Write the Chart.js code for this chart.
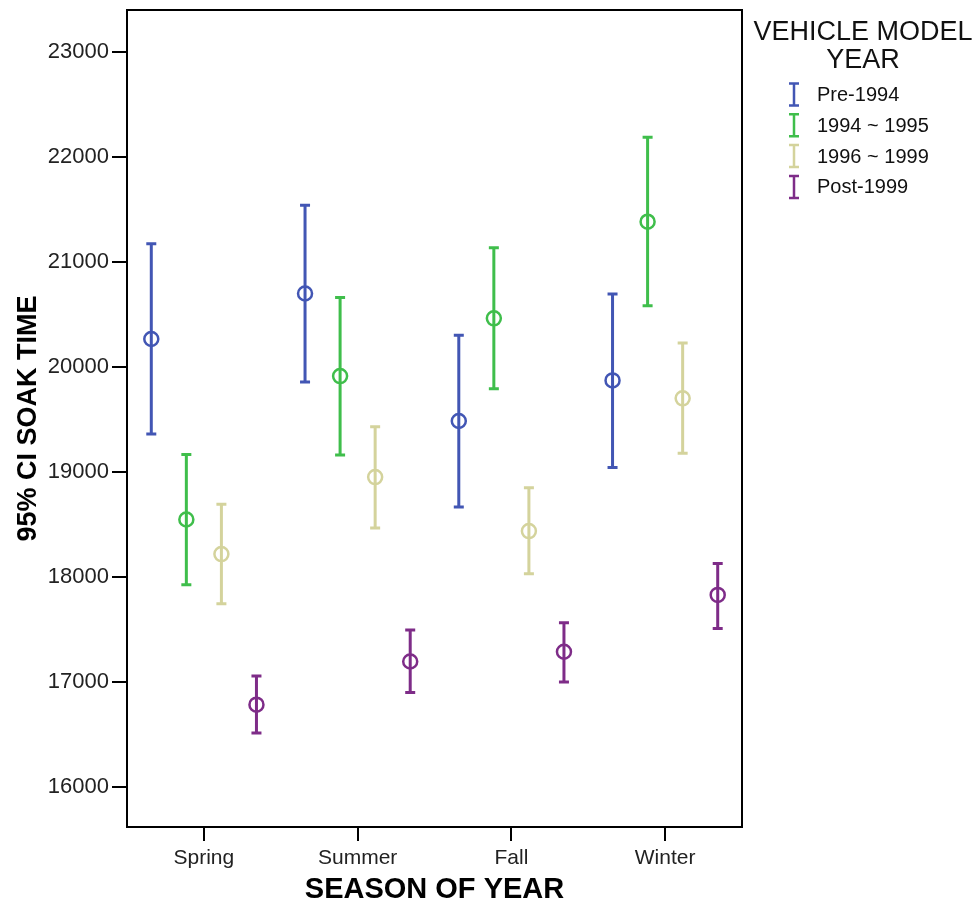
<!DOCTYPE html>
<html><head><meta charset="utf-8">
<script src="https://cdn.jsdelivr.net/npm/chart.js@4.4.0/dist/chart.umd.min.js"></script>
<style>html,body{margin:0;padding:0;background:#fff;}#wrap{width:976px;height:909px;position:relative;}</style>
</head><body><div id="wrap"><canvas id="c" width="976" height="909"></canvas></div>
<script>
const seasons = ['Spring', 'Summer', 'Fall', 'Winter'];
const seriesNames = ['Pre-1994', '1994 ~ 1995', '1996 ~ 1999', 'Post-1999'];
const seriesColors = ['#4256B4', '#3FBE4B', '#D4D39C', '#7E2C88'];
const yTickValues = [16000, 17000, 18000, 19000, 20000, 21000, 22000, 23000];

const pre1994Mean = [20267, 20700, 19486, 19873];
const pre1994Low = [19362, 19857, 18667, 19044];
const pre1994High = [21174, 21541, 20302, 20696];

const y1994to1995Mean = [18548, 19914, 20464, 21384];
const y1994to1995Low = [17928, 19162, 19794, 20584];
const y1994to1995High = [19168, 20663, 21136, 22188];

const y1996to1999Mean = [18219, 18952, 18438, 19702];
const y1996to1999Low = [17745, 18467, 18032, 19179];
const y1996to1999High = [18693, 19432, 18851, 20229];

const post1999Mean = [16785, 17196, 17289, 17830];
const post1999Low = [16514, 16901, 17000, 17510];
const post1999High = [17057, 17495, 17565, 18130];

const means = [pre1994Mean, y1994to1995Mean, y1996to1999Mean, post1999Mean];
const lows = [pre1994Low, y1994to1995Low, y1996to1999Low, post1999Low];
const highs = [pre1994High, y1994to1995High, y1996to1999High, post1999High];

const groupSpacing = 0.228;
const datasets = seriesNames.map((name, i) => ({
  label: name,
  data: seasons.map((s, j) => ({ x: j + 1 + (i - 1.5) * groupSpacing, y: means[i][j] })),
  errLow: lows[i],
  errHigh: highs[i],
  borderColor: seriesColors[i],
  backgroundColor: 'rgba(0,0,0,0)',
  pointRadius: 7,
  pointHoverRadius: 7,
  pointBorderWidth: 2.5,
  showLine: false
}));

const errorBarPlugin = {
  id: 'errorBars',
  beforeDatasetsDraw(chart) {
    const ctx = chart.ctx;
    const ys = chart.scales.y;
    chart.data.datasets.forEach((ds, i) => {
      const meta = chart.getDatasetMeta(i);
      meta.data.forEach((el, j) => {
        const x = el.x;
        const yl = ys.getPixelForValue(ds.errLow[j]);
        const yh = ys.getPixelForValue(ds.errHigh[j]);
        ctx.save();
        ctx.strokeStyle = ds.borderColor;
        ctx.lineWidth = 3;
        ctx.beginPath();
        ctx.moveTo(x, yl); ctx.lineTo(x, yh);
        ctx.moveTo(x - 5, yl); ctx.lineTo(x + 5, yl);
        ctx.moveTo(x - 5, yh); ctx.lineTo(x + 5, yh);
        ctx.stroke();
        ctx.restore();
      });
    });
  }
};

const framePlugin = {
  id: 'frame',
  afterDraw(chart) {
    const { left, right, top, bottom } = chart.chartArea;
    const ctx = chart.ctx;
    ctx.save();
    ctx.strokeStyle = '#000';
    ctx.lineWidth = 2;
    ctx.strokeRect(left, top, right - left, bottom - top);
    ctx.restore();
  }
};

const legendPlugin = {
  id: 'customLegend',
  afterDraw(chart) {
    const ctx = chart.ctx;
    const r = chart.chartArea.right;
    ctx.save();
    ctx.fillStyle = '#111';
    ctx.textAlign = 'center';
    ctx.textBaseline = 'middle';
    ctx.font = '27px "Liberation Sans", Arial, sans-serif';
    ctx.fillText('VEHICLE MODEL', r + 121, 33);
    ctx.fillText('YEAR', r + 121, 61);
    ctx.font = '20px "Liberation Sans", Arial, sans-serif';
    ctx.textAlign = 'left';
    chart.data.datasets.forEach((ds, i) => {
      const y = 94.5 + i * 30.8;
      const x = r + 52;
      ctx.strokeStyle = ds.borderColor;
      ctx.lineWidth = 2.5;
      ctx.beginPath();
      ctx.moveTo(x, y - 11); ctx.lineTo(x, y + 11);
      ctx.moveTo(x - 5, y - 11); ctx.lineTo(x + 5, y - 11);
      ctx.moveTo(x - 5, y + 11); ctx.lineTo(x + 5, y + 11);
      ctx.stroke();
      ctx.fillStyle = '#111';
      ctx.fillText(ds.label, r + 75, y + 1);
    });
    ctx.restore();
  }
};

new Chart(document.getElementById('c'), {
  type: 'scatter',
  data: { datasets },
  plugins: [errorBarPlugin, framePlugin, legendPlugin],
  options: {
    responsive: false,
    devicePixelRatio: 1,
    animation: false,
    layout: { padding: { left: 0, right: 234, top: 10, bottom: 0 } },
    plugins: { legend: { display: false }, tooltip: { enabled: false } },
    scales: {
      x: {
        type: 'linear',
        min: 0.5,
        max: 4.5,
        afterBuildTicks(scale) { scale.ticks = seasons.map((s, j) => ({ value: j + 1 })); },
        afterFit(scale) { scale.height = 82; scale.paddingLeft = 0; scale.paddingRight = 0; },
        ticks: {
          callback: (v) => seasons[Math.round(v) - 1],
          font: { family: '"Liberation Sans", Arial, sans-serif', size: 21 },
          color: '#222',
          padding: 5,
          maxRotation: 0,
          autoSkip: false
        },
        grid: { drawOnChartArea: false, drawTicks: true, tickLength: 14, color: '#000', lineWidth: 2 },
        border: { display: false },
        title: {
          display: true,
          text: 'SEASON OF YEAR',
          font: { family: '"Liberation Sans", Arial, sans-serif', size: 29, weight: 'bold' },
          color: '#000',
          padding: { top: 0, bottom: 2 }
        }
      },
      y: {
        min: 15620,
        max: 23400,
        afterBuildTicks(scale) { scale.ticks = yTickValues.map(v => ({ value: v })); },
        afterFit(scale) { scale.width = 127; scale.paddingTop = 0; scale.paddingBottom = 0; },
        ticks: {
          font: { family: '"Liberation Sans", Arial, sans-serif', size: 22 },
          color: '#222',
          padding: 3,
          callback: (v) => String(v)
        },
        grid: { drawOnChartArea: false, drawTicks: true, tickLength: 15, color: '#000', lineWidth: 2 },
        border: { display: false },
        title: {
          display: true,
          text: '95% CI SOAK TIME',
          font: { family: '"Liberation Sans", Arial, sans-serif', size: 27, weight: 'bold' },
          color: '#000',
          padding: { top: 12, bottom: 0 }
        }
      }
    }
  }
});
</script>
</body></html>
